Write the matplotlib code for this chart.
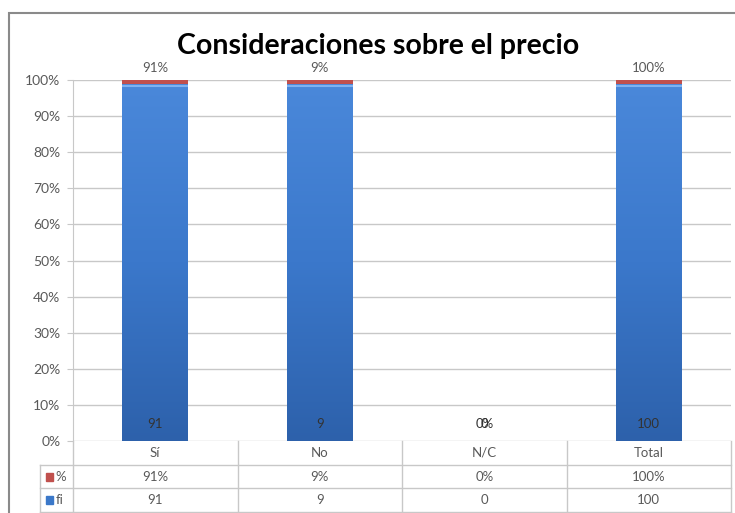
import matplotlib.pyplot as plt
import matplotlib.colors as mcolors
from matplotlib.patches import Rectangle
from matplotlib.lines import Line2D
import numpy as np

plt.rcParams['font.family'] = ['Lato', 'DejaVu Sans']

categorias = ['Sí', 'No', 'N/C', 'Total']
fi = [91, 9, 0, 100]
pct = [0.91, 0.09, 0.0, 1.00]
pct_txt = ['91%', '9%', '0%', '100%']
yticks = [0, 0.1, 0.2, 0.3, 0.4, 0.5, 0.6, 0.7, 0.8, 0.9, 1.0]

azul = '#3b78c9'
rojo = '#c0504d'
gris = '#595959'
linea = '#c8c8c8'

fig = plt.figure(figsize=(7.35, 5.13), dpi=100)
ax = fig.add_axes([73/735, 72/513, 658/735, 361/513])

x = np.arange(len(categorias))
tot = np.array(fi) + np.array(pct)
frac_fi = np.divide(fi, tot, out=np.zeros(len(fi)), where=tot > 0)
frac_pct = np.divide(pct, tot, out=np.zeros(len(fi)), where=tot > 0)

ax.set_axisbelow(True)
for y in yticks:
    ax.axhline(y, color=linea, lw=1, zorder=0)

ancho = 0.40
barras_fi = ax.bar(x, frac_fi, ancho, color=azul, zorder=2)
barras_pct = ax.bar(x, frac_pct, ancho, bottom=frac_fi, color=rojo, zorder=2)

# gradiente vertical dentro de las barras azules
cmap = mcolors.LinearSegmentedColormap.from_list('g', ['#2d61ab', '#3b78cb', '#4a88da'])
grad = np.linspace(0, 1, 256).reshape(-1, 1)
for b in barras_fi:
    if b.get_height() <= 0:
        continue
    x0, y0 = b.get_x(), b.get_y()
    im = ax.imshow(grad, cmap=cmap, origin='lower', aspect='auto', zorder=2.5,
                   extent=(x0, x0 + b.get_width(), y0, y0 + b.get_height()))
    im.set_clip_path(b)
    ax.plot([x0, x0 + b.get_width()], [b.get_height() - 0.006] * 2,
            color='#7fb2f0', lw=1.5, zorder=3, solid_capstyle='butt')

ax.set_xlim(-0.5, len(categorias) - 0.5)
ax.set_ylim(0, 1)
ax.set_xticks([])
ax.set_yticks(yticks)
ax.set_yticklabels([f'{int(round(v*100))}%' for v in yticks], color=gris, fontsize=10)
ax.tick_params(axis='y', length=4, color=linea, pad=5)
for s in ['top', 'right', 'bottom']:
    ax.spines[s].set_visible(False)
ax.spines['left'].set_color(linea)

# etiquetas de datos
for i in range(len(categorias)):
    ax.text(x[i], 0.047, str(fi[i]), ha='center', va='center', fontsize=9.5, color='#333333', zorder=4)
    if tot[i] > 0:
        ax.text(x[i], 1.033, pct_txt[i], ha='center', va='center', fontsize=9.5, color=gris, zorder=4)
    else:
        ax.text(x[i], 0.047, pct_txt[i], ha='center', va='center', fontsize=9.5, color='#333333', zorder=4)

# tabla de datos bajo el eje
tr = ax.get_xaxis_transform()
fila = 23.7 / 361
izq_ley = -0.5 - 33 / 164.5
bordes = np.arange(-0.5, len(categorias), 1.0)
for xb in bordes:
    ax.add_line(Line2D([xb, xb], [0, -3 * fila], transform=tr, color=linea, lw=1, clip_on=False))
ax.add_line(Line2D([izq_ley, izq_ley], [-fila, -3 * fila], transform=tr, color=linea, lw=1, clip_on=False))
for k in (1, 2, 3):
    ax.add_line(Line2D([izq_ley, len(categorias) - 0.5], [-k * fila] * 2, transform=tr,
                       color=linea, lw=1, clip_on=False))

for i, c in enumerate(categorias):
    ax.text(x[i], -0.5 * fila, c, transform=tr, ha='center', va='center', fontsize=9.5, color=gris)
    ax.text(x[i], -1.5 * fila, pct_txt[i], transform=tr, ha='center', va='center', fontsize=9.5, color=gris)
    ax.text(x[i], -2.5 * fila, str(fi[i]), transform=tr, ha='center', va='center', fontsize=9.5, color=gris)

for k, (nombre, col) in enumerate([('%', rojo), ('fi', azul)]):
    yc = -(1.5 + k) * fila
    ax.add_patch(Rectangle((izq_ley + 0.035, yc - 0.011), 0.045, 0.022, transform=tr,
                           color=col, clip_on=False))
    ax.text(izq_ley + 0.095, yc, nombre, transform=tr, ha='left', va='center', fontsize=9.5, color=gris)

fig.text(0.514, 0.91, 'Consideraciones sobre el precio', ha='center', va='center',
         fontsize=20.5, fontweight='bold', color='black')

fig.add_artist(Rectangle((9/735, -0.05), 1.1, 0.05 + (513 - 13)/513, transform=fig.transFigure,
                         fill=False, edgecolor='#8a8a8a', lw=1.5))

fig.savefig('out.png', dpi=100)
